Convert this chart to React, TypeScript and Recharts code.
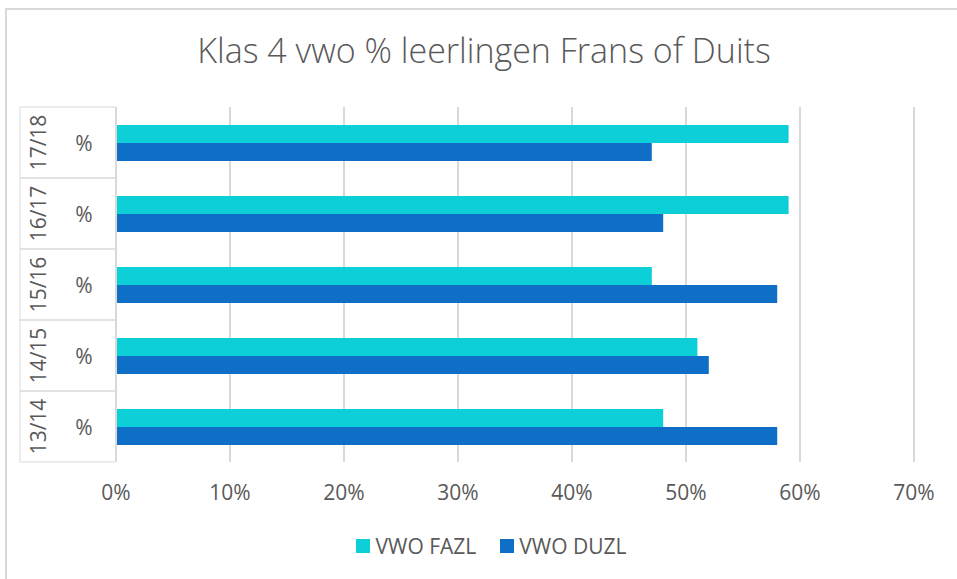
import React from 'react';
import { BarChart, Bar, XAxis, YAxis, CartesianGrid, Legend } from 'recharts';

const years = ['13/14', '14/15', '15/16', '16/17', '17/18'];
const fazl = [48, 51, 47, 59, 59];
const duzl = [58, 52, 58, 48, 47];
const xTicks = [0, 10, 20, 30, 40, 50, 60, 70];

const series = [
  { key: 'fazl', name: 'VWO FAZL', color: '#0CCFD8' },
  { key: 'duzl', name: 'VWO DUZL', color: '#0F6FC6' },
];

const data = years.map((year, i) => ({ year, fazl: fazl[i], duzl: duzl[i] }));

const TEXT = '#595959';
const GRID = '#d9d9d9';
const FONT = '"Open Sans", sans-serif';

const WIDTH = 957;
const HEIGHT = 579;
const PLOT_TOP = 107;
const PLOT_BOTTOM = 462;
const AXIS_LEFT = 20;
const AXIS_W = 96;
const BAND = (PLOT_BOTTOM - PLOT_TOP) / years.length;

// two level category label: year (rotated) + "%" with box lines
const CategoryTick = (props: any) => {
  const { y, payload } = props;
  const top = y - BAND / 2;
  const bottom = y + BAND / 2;
  const right = AXIS_LEFT + AXIS_W;
  return (
    <g>
      <line x1={AXIS_LEFT} y1={top} x2={right} y2={top} stroke={GRID} />
      <line x1={AXIS_LEFT} y1={bottom} x2={right} y2={bottom} stroke={GRID} />
      <line x1={AXIS_LEFT} y1={top} x2={AXIS_LEFT} y2={bottom} stroke={GRID} />
      <text
        x={AXIS_LEFT + 18}
        y={y}
        transform={`rotate(-90 ${AXIS_LEFT + 18} ${y})`}
        textAnchor="middle"
        dominantBaseline="central"
        fill={TEXT}
        fontSize={21}
        fontFamily={FONT}
      >
        {payload.value}
      </text>
      <text
        x={AXIS_LEFT + 64}
        y={y}
        textAnchor="middle"
        dominantBaseline="central"
        fill={TEXT}
        fontSize={21}
        fontFamily={FONT}
      >
        %
      </text>
    </g>
  );
};

const LegendContent = () => (
  <div
    style={{
      display: 'flex',
      justifyContent: 'center',
      gap: 24,
      paddingLeft: 26,
      fontFamily: FONT,
      fontSize: 21,
      color: TEXT,
    }}
  >
    {series.map((s) => (
      <div key={s.key} style={{ display: 'flex', alignItems: 'center' }}>
        <span style={{ width: 14, height: 14, background: s.color, marginRight: 5 }} />
        <span>{s.name}</span>
      </div>
    ))}
  </div>
);

export default function App() {
  return (
    <div style={{ position: 'relative', width: WIDTH, height: HEIGHT, background: '#fff', overflow: 'hidden' }}>
      <style>{`body{margin:0}`}</style>
      <div
        style={{
          position: 'absolute',
          left: 5,
          top: 8,
          width: WIDTH,
          height: HEIGHT,
          borderLeft: `2px solid ${GRID}`,
          borderTop: `2px solid ${GRID}`,
        }}
      />
      <div
        style={{
          position: 'absolute',
          left: 0,
          top: 27,
          width: 968,
          textAlign: 'center',
          fontFamily: FONT,
          fontWeight: 300,
          fontSize: 34,
          color: TEXT,
          whiteSpace: 'nowrap',
        }}
      >
        Klas 4 vwo % leerlingen Frans of Duits
      </div>
      <div style={{ position: 'absolute', left: 0, top: 0 }}>
        <BarChart
          width={WIDTH}
          height={HEIGHT}
          data={data}
          layout="vertical"
          margin={{ top: PLOT_TOP, right: WIDTH - 914, left: AXIS_LEFT, bottom: 77 }}
          barSize={18}
          barGap={0}
        >
          <CartesianGrid horizontal={false} stroke={GRID} strokeWidth={2} />
          <XAxis
            type="number"
            domain={[0, 70]}
            ticks={xTicks}
            tickFormatter={(v) => `${v}%`}
            axisLine={false}
            tickLine={false}
            tickSize={0}
            tickMargin={23}
            height={40}
            interval={0}
            tick={{ fill: TEXT, fontSize: 21, fontFamily: FONT }}
          />
          <YAxis
            type="category"
            dataKey="year"
            reversed
            width={AXIS_W}
            axisLine={{ stroke: GRID, strokeWidth: 2 }}
            tickLine={false}
            tick={<CategoryTick />}
            interval={0}
          />
          <Legend
            verticalAlign="middle"
            align="center"
            content={<LegendContent />}
            wrapperStyle={{ top: 532, left: 0, width: WIDTH }}
          />
          {series.map((s) => (
            <Bar key={s.key} dataKey={s.key} name={s.name} fill={s.color} isAnimationActive={false} />
          ))}
        </BarChart>
      </div>
    </div>
  );
}
